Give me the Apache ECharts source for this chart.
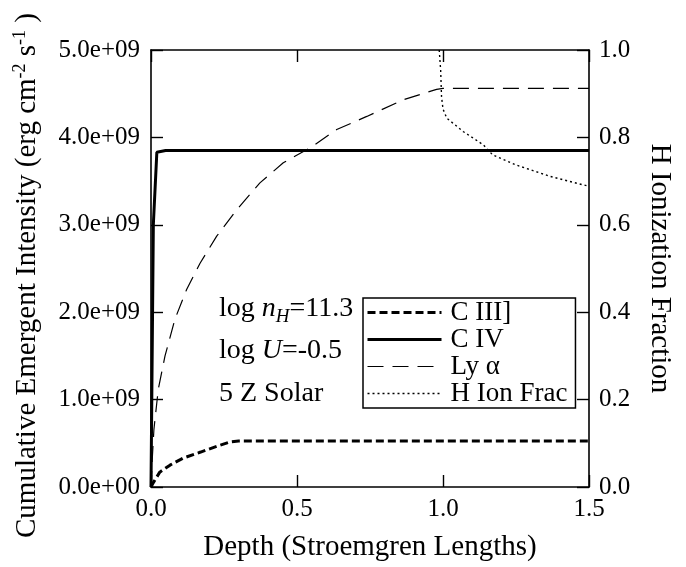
<!DOCTYPE html>
<html>
<head>
<meta charset="utf-8">
<script src="https://cdn.jsdelivr.net/npm/echarts@6/dist/echarts.min.js"></script>
<style>
  html, body { margin: 0; padding: 0; background: #fff; }
  #main { width: 686px; height: 567px; }
</style>
</head>
<body>
<div id="main"></div>
<script>
  // depth in Stroemgren lengths, intensity in units of 1e9 erg cm^-2 s^-1
  var c3Depth = [0, 0.008, 0.03, 0.065, 0.11, 0.17, 0.225, 0.27, 0.3, 1.5];
  var c3Vals  = [0, 0.05, 0.17, 0.25, 0.33, 0.40, 0.465, 0.515, 0.525, 0.525];

  var c4Depth = [0, 0.004, 0.008, 0.02, 0.05, 1.5];
  var c4Vals  = [0, 1.5, 3.0, 3.83, 3.85, 3.85];

  var lyaDepth = [0, 0.004, 0.01, 0.025, 0.048, 0.082, 0.122, 0.168, 0.225, 0.293, 0.373, 0.453, 0.545, 0.636, 0.739, 0.864, 0.978, 1.0, 1.5];
  var lyaVals  = [0, 0.3, 0.66, 1.12, 1.50, 1.92, 2.26, 2.56, 2.87, 3.17, 3.48, 3.71, 3.88, 4.09, 4.24, 4.43, 4.55, 4.56, 4.56];

  var hionDepth = [0.987, 0.992, 0.995, 1.0, 1.013, 1.07, 1.138, 1.17, 1.25, 1.366, 1.5];
  var hionVals  = [1.0, 0.954, 0.893, 0.865, 0.844, 0.813, 0.783, 0.76, 0.737, 0.711, 0.688];

  var legendNames = ['C III]', 'C IV', 'Ly α', 'H Ion Frac'];

  function pairs(xs, ys, scale) {
    return xs.map(function (x, i) { return [x, ys[i] * scale]; });
  }

  var FONT = "'Liberation Serif', 'Times New Roman', serif";
  var chart = echarts.init(document.getElementById('main'));

  var styles = [
    { color: '#000', width: 3, type: [8, 4] },
    { color: '#000', width: 3, type: 'solid' },
    { color: '#000', width: 1.2, type: [16, 9] },
    { color: '#000', width: 1.4, type: [2, 3] }
  ];

  var axisLine = { show: true, onZero: false, lineStyle: { color: '#000', width: 1.6 } };
  var axisTick = { show: true, inside: true, length: 12, lineStyle: { color: '#000', width: 1.4 } };
  var tickFont = { fontFamily: FONT, fontSize: 25, color: '#000' };
  var nameFont = { fontFamily: FONT, fontSize: 29, color: '#000' };

  chart.setOption({
    animation: false,
    backgroundColor: '#fff',
    color: ['#000'],
    textStyle: { fontFamily: FONT, color: '#000' },
    grid: { left: 151, right: 97, top: 50, bottom: 79 },
    legend: {
      orient: 'vertical',
      left: 363, top: 298,
      padding: [1, 8, 1, 3],
      borderColor: '#000', borderWidth: 1.5,
      itemWidth: 74, itemHeight: 14, itemGap: 0,
      itemStyle: { color: 'rgba(0,0,0,0)', borderWidth: 0 },
      textStyle: { fontFamily: FONT, fontSize: 27, color: '#000', padding: [0, 0, 0, 4] },
      data: legendNames.map(function (n, i) {
        return { name: n, lineStyle: styles[i] };
      })
    },
    xAxis: [{
      type: 'value', min: 0, max: 1.5, interval: 0.5,
      name: 'Depth (Stroemgren Lengths)', nameLocation: 'middle', nameGap: 46,
      nameTextStyle: nameFont,
      axisLine: axisLine, axisTick: axisTick, splitLine: { show: false },
      axisLabel: Object.assign({ margin: 10, formatter: function (v) { return v.toFixed(1); } }, tickFont)
    }, {
      type: 'value', min: 0, max: 1.5, interval: 0.5, position: 'top',
      axisLine: axisLine, axisTick: axisTick, splitLine: { show: false },
      axisLabel: { show: false }
    }],
    yAxis: [{
      type: 'value', min: 0, max: 5e9, interval: 1e9,
      name: 'Cumulative Emergent Intensity (erg cm{sup|-2} s{sup|-1} )',
      nameLocation: 'middle', nameGap: 108,
      nameTextStyle: Object.assign({
        padding: [0, 14, 0, 0],
        rich: { sup: { fontFamily: FONT, fontSize: 18, color: '#000', padding: [0, 0, 14, 0] } }
      }, nameFont),
      axisLine: axisLine, axisTick: axisTick, splitLine: { show: false },
      axisLabel: Object.assign({ margin: 11, formatter: function (v) {
          return v === 0 ? '0.0e+00' : (v / 1e9).toFixed(1) + 'e+09';
        } }, tickFont)
    }, {
      type: 'value', min: 0, max: 1, interval: 0.2, position: 'right',
      name: 'H Ionization Fraction', nameLocation: 'middle', nameGap: 56, nameRotate: -90,
      nameTextStyle: nameFont,
      axisLine: axisLine, axisTick: axisTick, splitLine: { show: false },
      axisLabel: Object.assign({ margin: 10, formatter: function (v) { return v.toFixed(1); } }, tickFont)
    }],
    graphic: [{
      type: 'text', left: 219, top: 295,
      style: {
        text: '{a|log }{i|n}{s|H}{a|=11.3}',
        rich: {
          a: { fontFamily: FONT, fontSize: 28, fill: '#000' },
          i: { fontFamily: FONT, fontSize: 28, fontStyle: 'italic', fill: '#000' },
          s: { fontFamily: FONT, fontSize: 19, fontStyle: 'italic', fill: '#000', padding: [16, 0, 0, 0] }
        }
      }
    }, {
      type: 'text', left: 219, top: 337,
      style: {
        text: '{a|log }{i|U}{a|=-0.5}',
        rich: {
          a: { fontFamily: FONT, fontSize: 28, fill: '#000' },
          i: { fontFamily: FONT, fontSize: 28, fontStyle: 'italic', fill: '#000' }
        }
      }
    }, {
      type: 'text', left: 219, top: 380,
      style: { text: '5 Z Solar', font: '28px ' + FONT, fill: '#000' }
    }],
    series: [{
      name: legendNames[0], type: 'line', symbol: 'none',
      data: pairs(c3Depth, c3Vals, 1e9), lineStyle: styles[0]
    }, {
      name: legendNames[1], type: 'line', symbol: 'none',
      data: pairs(c4Depth, c4Vals, 1e9), lineStyle: styles[1]
    }, {
      name: legendNames[2], type: 'line', symbol: 'none',
      data: pairs(lyaDepth, lyaVals, 1e9), lineStyle: styles[2]
    }, {
      name: legendNames[3], type: 'line', symbol: 'none', yAxisIndex: 1,
      data: pairs(hionDepth, hionVals, 1), lineStyle: styles[3]
    }]
  });
</script>
</body>
</html>
